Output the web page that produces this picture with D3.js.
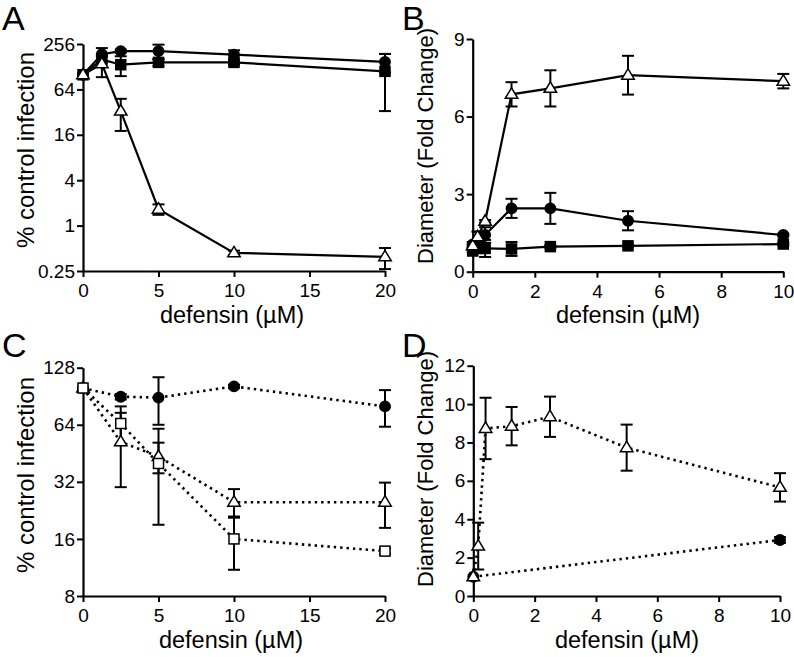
<!DOCTYPE html>
<html>
<head>
<meta charset="utf-8">
<script src="https://cdn.jsdelivr.net/npm/d3@7/dist/d3.min.js"></script>
<style>
  html, body { margin: 0; padding: 0; background: #fff; }
  svg { display: block; font-family: "Liberation Sans", Arial, Helvetica, sans-serif; }
</style>
</head>
<body>
<svg id="chart" width="794" height="657"></svg>
<script>
// ---------- DATA ----------
// Panel A: % control infection (log2 axis) vs defensin (µM)
const aX = [0, 1.25, 2.5, 5, 10, 20];
const aCircle = [100, 187, 206, 206, 185, 148];
const aCircleErr = [0, 39, 10, 45, 26, 41];
const aSquare = [100, 160, 136, 146, 146, 111];
const aSquareErr = [0, 15, 40, 15, 10, 78];
const aTriangle = [100, 140, 33, 1.65, 0.435, 0.385];
const aTriangleErr = [0, 47, 15, 0.26, 0.03, 0.12];
const aYTicks = [0.25, 1, 4, 16, 64, 256];
const aYTickLabels = ["0.25", "1", "4", "16", "64", "256"];
const aXTicks = [0, 5, 10, 15, 20];

// Panel B: Diameter (fold change) vs defensin (µM)
const bX = [0, 0.16, 0.4, 1.25, 2.5, 5, 10];
const bCircle = [1.05, 1.25, 1.42, 2.45, 2.45, 1.97, 1.42];
const bCircleErr = [0.1, 0.3, 0.3, 0.37, 0.6, 0.37, 0.05];
const bSquare = [0.8, 0.9, 0.9, 0.88, 0.97, 1.0, 1.07];
const bSquareErr = [0.05, 0.1, 0.33, 0.27, 0.05, 0.05, 0.05];
const bTriangle = [1.0, 1.35, 1.95, 6.86, 7.09, 7.6, 7.37];
const bTriangleErr = [0.05, 0.2, 0.05, 0.47, 0.7, 0.75, 0.28];
const bYTicks = [0, 3, 6, 9];
const bXTicks = [0, 2, 4, 6, 8, 10];

// Panel C: % control infection (log2 axis) vs defensin (µM)
const cX = [0, 2.5, 5, 10, 20];
const cCircle = [100, 90, 89, 102, 80];
const cCircleErr = [0, 3, 25, 2, 17.5];
const cSquare = [100, 65, 40, 16, 13.8];
const cSquareErr = [0, 15, 21, 5, 0.5];
const cTriangle = [100, 52, 43.5, 25, 25];
const cTriangleErr = [0, 22, 8, 4.3, 6.7];
const cYTicks = [8, 16, 32, 64, 128];
const cXTicks = [0, 5, 10, 15, 20];

// Panel D: Diameter (fold change) vs defensin (µM)
const dTriX = [0, 0.16, 0.4, 1.25, 2.5, 5, 10];
const dTriangle = [1.0, 2.6, 8.73, 8.85, 9.34, 7.73, 5.66];
const dTriangleErr = [0, 1.22, 1.6, 1.0, 1.05, 1.2, 0.74];
const dCircX = [0, 10];
const dCircle = [1.0, 2.92];
const dCircleErr = [0, 0.15];
const dYTicks = [0, 2, 4, 6, 8, 10, 12];
const dXTicks = [0, 2, 4, 6, 8, 10];

const xTitle = "defensin (µM)";
const yTitleInf = "% control infection";
const yTitleDia = "Diameter (Fold Change)";

// ---------- DRAWING ----------
const svg = d3.select("#chart");

function zip(xs, ys, es) { return xs.map((x, i) => ({ x, y: ys[i], e: es[i] })); }

function panel(cfg) {
  const g = svg.append("g");
  const x = d3.scaleLinear().domain(cfg.xDomain).range(cfg.xRange);
  const y = (cfg.log ? d3.scaleLog().base(2) : d3.scaleLinear()).domain(cfg.yDomain).range(cfg.yRange);
  const yMin = cfg.yDomain[0];

  // axes
  const xAxis = d3.axisBottom(x).tickValues(cfg.xTicks).tickSize(6).tickSizeOuter(0).tickPadding(3).tickFormat(d3.format("d"));
  const yAxis = d3.axisLeft(y).tickValues(cfg.yTicks).tickSize(6).tickSizeOuter(0).tickPadding(2)
    .tickFormat((d, i) => cfg.yLabels ? cfg.yLabels[i] : d3.format("d")(d));
  const gx = g.append("g").attr("transform", `translate(0,${cfg.yRange[0]})`).call(xAxis);
  const gy = g.append("g").attr("transform", `translate(${cfg.xRange[0]},0)`).call(yAxis);
  [gx, gy].forEach(a => {
    a.select(".domain").attr("stroke", "#000").attr("stroke-width", 2.2);
    a.selectAll(".tick line").attr("stroke", "#000").attr("stroke-width", 2);
    a.selectAll(".tick text").attr("font-size", 19).attr("fill", "#000")
      .attr("font-family", '"Liberation Sans", Arial, sans-serif');
  });
  gx.selectAll(".tick text").attr("dy", "0.9em");

  // titles
  g.append("text").attr("x", cfg.xTitleX).attr("y", cfg.xTitleY).attr("text-anchor", "middle")
    .attr("font-size", 23.5).text(xTitle);
  g.append("text").attr("transform", `translate(${cfg.yTitleX},${cfg.yTitleY}) rotate(-90)`)
    .attr("text-anchor", "middle").attr("font-size", cfg.yTitleSize).text(cfg.yTitle);
  g.append("text").attr("x", cfg.letterX).attr("y", cfg.letterY).attr("font-size", 34).text(cfg.letter);

  const line = d3.line().x(d => x(d.x)).y(d => y(d.y));
  const dash = cfg.dotted ? "2.4,4" : null;

  // lines
  cfg.series.forEach(s => {
    g.append("path").datum(s.data).attr("d", line).attr("fill", "none").attr("stroke", "#000")
      .attr("stroke-width", cfg.dotted ? 2.6 : 2.2).attr("stroke-dasharray", dash);
  });
  // error bars
  cfg.series.forEach(s => {
    s.data.forEach(d => {
      if (!d.e) return;
      const top = y(d.y + d.e);
      const bot = y(Math.max(d.y - d.e, yMin));
      const cx = x(d.x);
      g.append("line").attr("x1", cx).attr("x2", cx).attr("y1", top).attr("y2", bot)
        .attr("stroke", "#000").attr("stroke-width", 2);
      [top, bot].forEach(yy => g.append("line").attr("x1", cx - 6).attr("x2", cx + 6)
        .attr("y1", yy).attr("y2", yy).attr("stroke", "#000").attr("stroke-width", 2));
    });
  });
  // markers
  cfg.series.forEach(s => {
    s.data.forEach(d => {
      const cx = x(d.x), cy = y(d.y);
      if (s.shape === "circle") {
        g.append("circle").attr("cx", cx).attr("cy", cy).attr("r", 5.2).attr("fill", s.fill)
          .attr("stroke", "#000").attr("stroke-width", 1.5);
      } else if (s.shape === "square") {
        g.append("rect").attr("x", cx - 5).attr("y", cy - 5).attr("width", 10).attr("height", 10)
          .attr("fill", s.fill).attr("stroke", "#000").attr("stroke-width", 1.5);
      } else {
        const h = 10.5, w = 12.5;
        g.append("path").attr("d", `M${cx},${cy - h * 0.62}L${cx + w / 2},${cy + h * 0.38}L${cx - w / 2},${cy + h * 0.38}Z`)
          .attr("fill", s.fill).attr("stroke", "#000").attr("stroke-width", 1.5);
      }
    });
  });
}

panel({
  letter: "A", letterX: 2, letterY: 30,
  xDomain: [0, 20], xRange: [83, 385], xTicks: aXTicks,
  log: true, yDomain: [0.25, 256], yRange: [271, 44], yTicks: aYTicks, yLabels: aYTickLabels,
  xTitleX: 232, xTitleY: 323, yTitleX: 34, yTitleY: 150, yTitle: yTitleInf, yTitleSize: 24,
  dotted: false,
  series: [
    { shape: "circle", fill: "#000", data: zip(aX, aCircle, aCircleErr) },
    { shape: "square", fill: "#000", data: zip(aX, aSquare, aSquareErr) },
    { shape: "triangle", fill: "#fff", data: zip(aX, aTriangle, aTriangleErr) }
  ]
});

panel({
  letter: "B", letterX: 402, letterY: 30,
  xDomain: [0, 10], xRange: [472.7, 783.3], xTicks: bXTicks,
  log: false, yDomain: [0, 9], yRange: [271.7, 39], yTicks: bYTicks,
  xTitleX: 628, xTitleY: 323, yTitleX: 433, yTitleY: 146, yTitle: yTitleDia, yTitleSize: 22,
  dotted: false,
  series: [
    { shape: "square", fill: "#000", data: zip(bX, bSquare, bSquareErr) },
    { shape: "circle", fill: "#000", data: zip(bX, bCircle, bCircleErr) },
    { shape: "triangle", fill: "#fff", data: zip(bX, bTriangle, bTriangleErr) }
  ]
});

panel({
  letter: "C", letterX: 2, letterY: 357,
  xDomain: [0, 20], xRange: [83, 385], xTicks: cXTicks,
  log: true, yDomain: [8, 128], yRange: [596, 367.7], yTicks: cYTicks,
  xTitleX: 231, xTitleY: 648, yTitleX: 34, yTitleY: 475, yTitle: yTitleInf, yTitleSize: 24,
  dotted: true,
  series: [
    { shape: "circle", fill: "#000", data: zip(cX, cCircle, cCircleErr) },
    { shape: "triangle", fill: "#fff", data: zip(cX, cTriangle, cTriangleErr) },
    { shape: "square", fill: "#fff", data: zip(cX, cSquare, cSquareErr) }
  ]
});

panel({
  letter: "D", letterX: 402, letterY: 357,
  xDomain: [0, 10], xRange: [473.3, 780], xTicks: dXTicks,
  log: false, yDomain: [0, 12], yRange: [596, 365.7], yTicks: dYTicks,
  xTitleX: 627, xTitleY: 648, yTitleX: 433, yTitleY: 469, yTitle: yTitleDia, yTitleSize: 22,
  dotted: true,
  series: [
    { shape: "circle", fill: "#000", data: zip(dCircX, dCircle, dCircleErr) },
    { shape: "triangle", fill: "#fff", data: zip(dTriX, dTriangle, dTriangleErr) }
  ]
});
</script>
</body>
</html>
